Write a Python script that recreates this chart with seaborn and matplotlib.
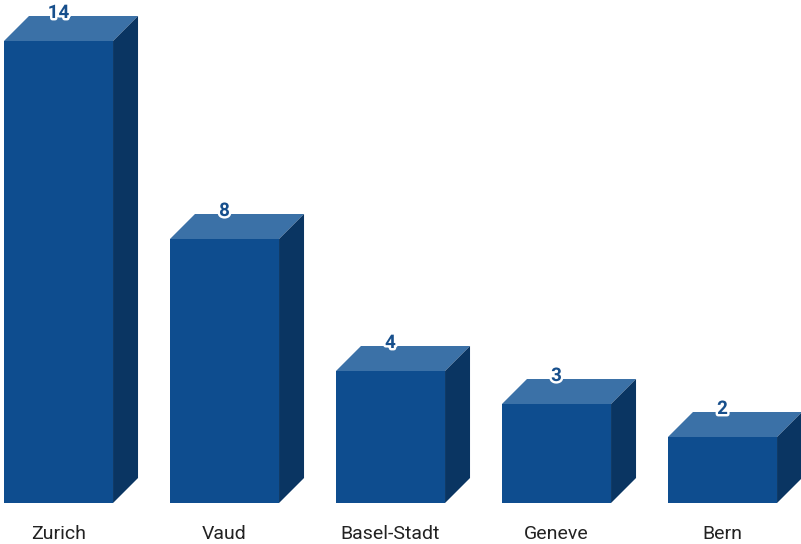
import matplotlib
matplotlib.use("Agg")
import matplotlib.pyplot as plt
import matplotlib.patheffects as pe
from matplotlib.patches import Polygon
from matplotlib.transforms import IdentityTransform
import seaborn as sns
import pandas as pd

categories = ["Zurich", "Vaud", "Basel-Stadt", "Geneve", "Bern"]
values = [14, 8, 4, 3, 2]

FRONT = "#0e4d8f"
TOP = "#3b71a7"
SIDE = "#0a3562"
DEPTH_PX = 25

sns.set_theme(style="white")
plt.rcParams["font.family"] = ["Roboto", "DejaVu Sans"]

W, H, DPI = 801, 544, 100
fig = plt.figure(figsize=(W / DPI, H / DPI), dpi=DPI)
base_px = 41
ax = fig.add_axes([0, base_px / H, 1, (H - base_px) / H])

df = pd.DataFrame({"cat": categories, "val": values})
sns.barplot(data=df, x="cat", y="val", color=FRONT, saturation=1, width=0.657,
            ax=ax, edgecolor="none")

step = 166.0
ax.set_xlim(-58.5 / step, 4 + (W - 722.5) / step)
ax.set_ylim(0, (H - base_px) / 33.0)
for s in ax.spines.values():
    s.set_visible(False)
ax.set_yticks([])
ax.set_xlabel("")
ax.set_ylabel("")
ax.tick_params(axis="x", length=0, pad=16, labelsize=14, labelcolor="#222222")

fig.canvas.draw()
d = DEPTH_PX
for bar, v in zip(ax.patches, values):
    x0, w, h = bar.get_x(), bar.get_width(), bar.get_height()
    (px0, py0) = ax.transData.transform((x0, 0))
    (px1, py1) = ax.transData.transform((x0 + w, h))
    top = Polygon([(px0, py1), (px1, py1), (px1 + d, py1 + d), (px0 + d, py1 + d)],
                  closed=True, facecolor=TOP, edgecolor="none",
                  transform=IdentityTransform(), clip_on=False)
    side = Polygon([(px1, py0), (px1 + d, py0 + d), (px1 + d, py1 + d), (px1, py1)],
                   closed=True, facecolor=SIDE, edgecolor="none",
                   transform=IdentityTransform(), clip_on=False)
    fig.add_artist(top)
    fig.add_artist(side)
    cx = (px0 + px1) / 2
    fig.text(cx / W, (py1 + d + 3) / H, str(v), ha="center", va="center",
             fontsize=13.5, fontweight="bold", color="#174f8c",
             path_effects=[pe.withStroke(linewidth=3.5, foreground="white")])

fig.savefig("out.png", dpi=DPI)
